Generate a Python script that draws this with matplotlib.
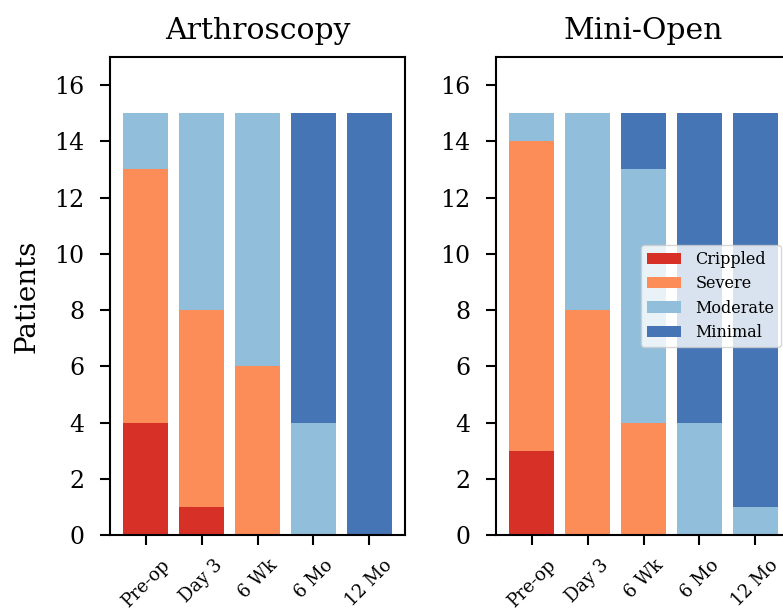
import matplotlib
matplotlib.use("Agg")
import matplotlib.pyplot as plt
import numpy as np

plt.rcParams['font.family'] = ['DejaVu Serif']

timepoints = ["Pre-op", "Day 3", "6 Wk", "6 Mo", "12 Mo"]
categories = ["Crippled", "Severe", "Moderate", "Minimal"]
colors = ["#d73027", "#fc8d59", "#91bfdb", "#4575b4"]

arthro_crippled = [4, 1, 0, 0, 0]
arthro_severe = [9, 7, 6, 0, 0]
arthro_moderate = [2, 7, 9, 4, 0]
arthro_minimal = [0, 0, 0, 11, 15]

mini_crippled = [3, 0, 0, 0, 0]
mini_severe = [11, 8, 4, 0, 0]
mini_moderate = [1, 7, 9, 4, 1]
mini_minimal = [0, 0, 2, 11, 14]

W, H = 783, 612
fig = plt.figure(figsize=(W / 100, H / 100), dpi=100)
ax1 = fig.add_axes([110 / W, (H - 535) / H, 295 / W, 478 / H])
ax2 = fig.add_axes([496 / W, (H - 535) / H, 295 / W, 478 / H])

groups = [
    (ax1, "Arthroscopy", [arthro_crippled, arthro_severe, arthro_moderate, arthro_minimal]),
    (ax2, "Mini-Open", [mini_crippled, mini_severe, mini_moderate, mini_minimal]),
]

x = np.arange(len(timepoints))
for ax, title, series in groups:
    bottom = np.zeros(len(timepoints))
    for name, vals, c in zip(categories, series, colors):
        ax.bar(x, vals, bottom=bottom, color=c, label=name, width=0.8)
        bottom += np.array(vals)
    ax.set_ylim(0, 17)
    ax.set_yticks(range(0, 17, 2))
    ax.set_xticks(x)
    ax.set_xticklabels(timepoints, rotation=45, fontsize=13)
    ax.tick_params(axis='y', labelsize=17, length=7.5, width=1.5, pad=11)
    ax.tick_params(axis='x', length=7.5, width=1.5, pad=8)
    ax.set_title(title, fontsize=21.5, pad=13)
    for s in ax.spines.values():
        s.set_linewidth(1.5)

ax1.set_ylabel("Patients", fontsize=20, labelpad=10)
ax2.legend(loc="center right", fontsize=11.5, handlelength=2.1,
           handletextpad=0.9, labelspacing=0.45, borderaxespad=0.65)

fig.savefig("out.png", dpi=100)
